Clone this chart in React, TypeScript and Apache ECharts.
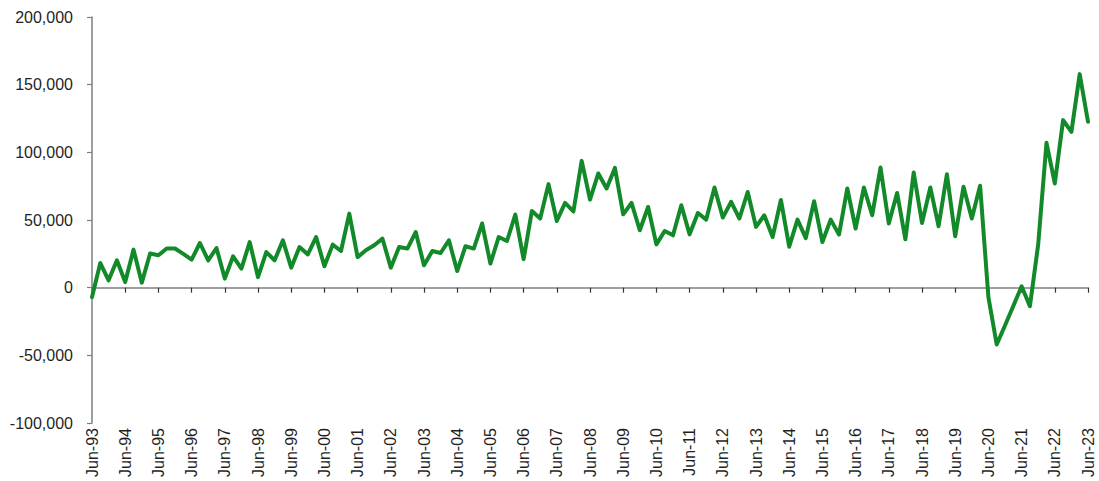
import React, { useEffect, useRef } from "react";
import * as echarts from "echarts";

const months = ["Jun", "Sep", "Dec", "Mar"];
const startYear = 1993;
const quarterCount = 121;

const values: number[] = [
  -7000, 18200, 5400, 20200,
  4100, 28100, 3700, 25200,
  23900, 28900, 28900, 25000,
  20700, 33000, 20200, 29300,
  6700, 23200, 14100, 33700,
  7800, 26300, 20200, 35000,
  14800, 30000, 24600, 37400,
  15800, 31800, 27100, 54700,
  22600, 27600, 31300, 36200,
  14800, 30000, 28900, 41100,
  16500, 27100, 25600, 35000,
  12300, 30600, 28900, 47400,
  17800, 37400, 34500, 54000,
  21000, 56700, 51100, 76500,
  49300, 62600, 56300, 93700,
  65100, 84400, 73300, 88500,
  54200, 62600, 42400, 59600,
  32000, 41900, 38700, 60900,
  39400, 55200, 50300, 74000,
  51800, 63400, 51100, 70700,
  44900, 53500, 37400, 64800,
  30300, 50300, 36600, 63900,
  33700, 50300, 39200, 73300,
  43700, 74000, 53500, 88800,
  47400, 70000, 35700, 85100,
  47800, 74000, 45400, 83800,
  38000, 74500, 51100, 75300,
  -7000, -42000, -28000, -13500,
  1000, -13700, 32000, 107000,
  77000, 123800, 115100, 157800,
  122600,
];

const yTicks = { min: -100000, max: 200000, step: 50000 };

function quarterLabels(): string[] {
  const out: string[] = [];
  for (let i = 0; i < quarterCount; i++) {
    const m = months[i % 4];
    const yr = startYear + Math.floor((i + 2) / 4);
    out.push(`${m}-${String(yr % 100).padStart(2, "0")}`);
  }
  return out;
}

const categories = quarterLabels();

export default function App() {
  const ref = useRef<HTMLDivElement>(null);
  useEffect(() => {
    if (!ref.current) return;
    const chart = echarts.init(ref.current, undefined, { renderer: "svg" });
    const axisColor = "#7f7f7f";
    const textColor = "#1f1f1f";
    const font = "Liberation Sans, Arial, sans-serif";
    chart.setOption({
      animation: false,
      backgroundColor: "#ffffff",
      grid: { left: 92, right: 11, top: 17, bottom: 58, containLabel: false },
      xAxis: [
        {
          type: "category",
          data: categories,
          boundaryGap: false,
          position: "bottom",
          axisLine: { show: false, onZero: false },
          axisTick: { show: false },
          axisLabel: {
            interval: 3,
            rotate: 90,
            margin: 5,
            color: textColor,
            fontSize: 16,
            fontFamily: font,
          },
          splitLine: { show: false },
        },
        {
          type: "category",
          data: categories,
          boundaryGap: false,
          position: "bottom",
          axisLine: { show: true, onZero: true, onZeroAxisIndex: 0, lineStyle: { color: axisColor, width: 1.5 } },
          axisTick: { show: true, interval: 3, length: 5, lineStyle: { color: "#333", width: 1.2 } },
          axisLabel: { show: false },
          splitLine: { show: false },
        },
      ],
      yAxis: {
        type: "value",
        min: yTicks.min,
        max: yTicks.max,
        interval: yTicks.step,
        axisLine: { show: true, lineStyle: { color: axisColor, width: 1.5 } },
        axisTick: { show: true, length: 5, lineStyle: { color: axisColor, width: 1.2 } },
        splitLine: { show: false },
        axisLabel: {
          margin: 19,
          color: textColor,
          fontSize: 16,
          fontFamily: font,
          formatter: (v: number) => v.toLocaleString("en-US"),
        },
      },
      series: [
        {
          type: "line",
          xAxisIndex: 0,
          data: values,
          showSymbol: false,
          symbol: "none",
          lineStyle: { color: "#138a2a", width: 4, join: "round", cap: "round" },
          z: 5,
        },
      ],
    });
    return () => chart.dispose();
  }, []);
  return (
    <div
      ref={ref}
      style={{ position: "absolute", left: 0, top: 0, width: 1099, height: 481 }}
    />
  );
}
